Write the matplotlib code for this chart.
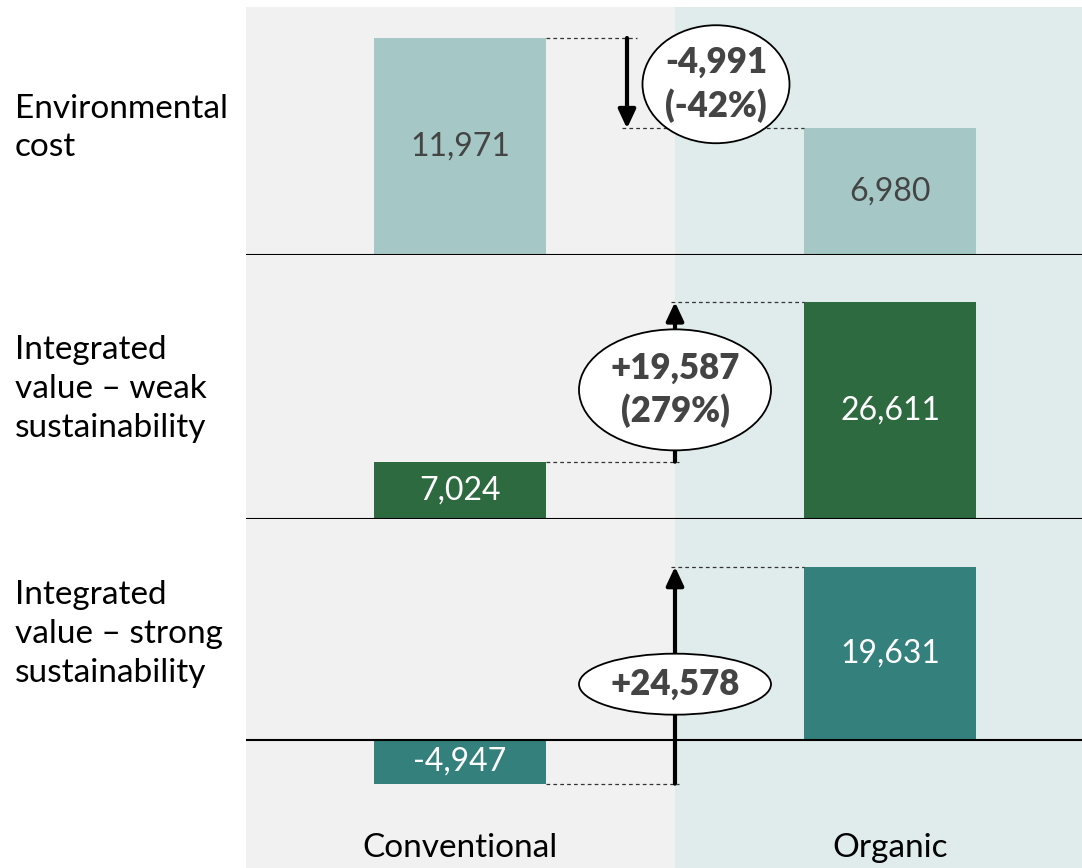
import matplotlib
matplotlib.use('Agg')
import matplotlib.pyplot as plt
from matplotlib.patches import Ellipse
from matplotlib.transforms import blended_transform_factory

plt.rcParams['font.family'] = ['Lato', 'DejaVu Sans']

categories = ['Conventional', 'Organic']
row_labels = ['Environmental\ncost',
              'Integrated\nvalue \u2013 weak\nsustainability',
              'Integrated\nvalue \u2013 strong\nsustainability']
env_cost = [11971, 6980]
weak_sust = [7024, 26611]
strong_sust = [-4947, 19631]
value_labels = [['11,971', '6,980'], ['7,024', '26,611'], ['-4,947', '19,631']]
change_labels = ['-4,991\n(-42%)', '+19,587\n(279%)', '+24,578']

series = [env_cost, weak_sust, strong_sust]
bar_colors = ['#a5c8c6', '#2e6a40', '#33807c']
label_colors = ['#444444', 'white', 'white']

W, H = 1082, 868
fig = plt.figure(figsize=(W / 100, H / 100), dpi=100)

# pixel layout: plot area left edge, category spacing, row extents
LEFT = 246
X0_PX, DX_PX = 460, 430
XLIM = ((LEFT - X0_PX) / DX_PX, (W - X0_PX) / DX_PX)
SPAN_PX = 217
rows_px = [(7, 255, 255), (255, 519, 519), (519, 868, 740)]  # top, bottom, baseline
row_label_y = [128, 389, 634]
# arrow x, ellipse x (data), ellipse size px, ellipse y offset px
arrow_x = [(627 - X0_PX) / DX_PX, 0.5, 0.5]
ell_x = [(716 - X0_PX) / DX_PX, 0.5, 0.5]
ell_size = [(147, 118), (192, 121), (192, 61)]
ell_dy = [1, 8, 9]
dash_spans = [((0.2, (637 - X0_PX) / DX_PX), ((622 - X0_PX) / DX_PX, 0.8)),
              ((0.2, 0.51), (0.49, 0.8)),
              ((0.2, 0.51), (0.49, 0.8))]

bg = fig.add_axes([LEFT / W, 0, (W - LEFT) / W, (H - 7) / H])
bg.set_xlim(*XLIM)
bg.set_ylim(0, 1)
bg.axvspan(XLIM[0], 0.5, color='#f1f1f1', lw=0)
bg.axvspan(0.5, XLIM[1] + 1, color='#e0ecec', lw=0)
bg.axis('off')

tr = blended_transform_factory(bg.transData, fig.transFigure)
for i, cat in enumerate(categories):
    bg.text(i, 1 - 848 / H, cat, transform=tr, ha='center', va='center',
            fontsize=24, color='black')

for r, vals in enumerate(series):
    top, bot, base = rows_px[r]
    ax = fig.add_axes([LEFT / W, 1 - bot / H, (W - LEFT) / W, (bot - top) / H])
    ax.patch.set_alpha(0)
    rng = max(vals) - min(min(vals), 0)
    ppu = SPAN_PX / rng
    ax.set_ylim(-(bot - base) / ppu, (base - top) / ppu)
    ax.set_xlim(*XLIM)
    ax.axis('off')

    ax.bar(range(len(vals)), vals, width=0.4, color=bar_colors[r], zorder=2)
    ax.axhline(0, color='black', lw=1.5, zorder=3)
    for i, v in enumerate(vals):
        ax.text(i, v / 2, value_labels[r][i], ha='center', va='center',
                fontsize=23, color=label_colors[r], zorder=4)

    # dashed guides
    (a0, a1), (b0, b1) = dash_spans[r]
    ax.plot([a0, a1], [vals[0], vals[0]], ls=(0, (3, 2.5)), lw=0.9,
            color='#333333', zorder=2)
    ax.plot([b0, b1], [vals[1], vals[1]], ls=(0, (3, 2.5)), lw=0.9,
            color='#333333', zorder=2)

    # change arrow
    ax.annotate('', xy=(arrow_x[r], vals[1]), xytext=(arrow_x[r], vals[0]),
                arrowprops=dict(arrowstyle='-|>,head_length=0.75,head_width=0.35',
                                mutation_scale=15, lw=3, color='black',
                                shrinkA=0, shrinkB=0), zorder=5)

    # ellipse with change label
    ym = (vals[0] + vals[1]) / 2 - ell_dy[r] / ppu
    ew, eh = ell_size[r]
    ax.add_patch(Ellipse((ell_x[r], ym), ew / DX_PX, eh / ppu,
                         facecolor='white', edgecolor='black', lw=1.3, zorder=6))
    ax.text(ell_x[r], ym, change_labels[r], ha='center', va='center',
            fontsize=25, fontweight='heavy', color='#444444',
            linespacing=1.32, zorder=7)

for r, lab in enumerate(row_labels):
    fig.text(15 / W, 1 - row_label_y[r] / H, lab, ha='left', va='center',
             fontsize=24, color='black', linespacing=1.36)

fig.savefig('out.png', dpi=100)
